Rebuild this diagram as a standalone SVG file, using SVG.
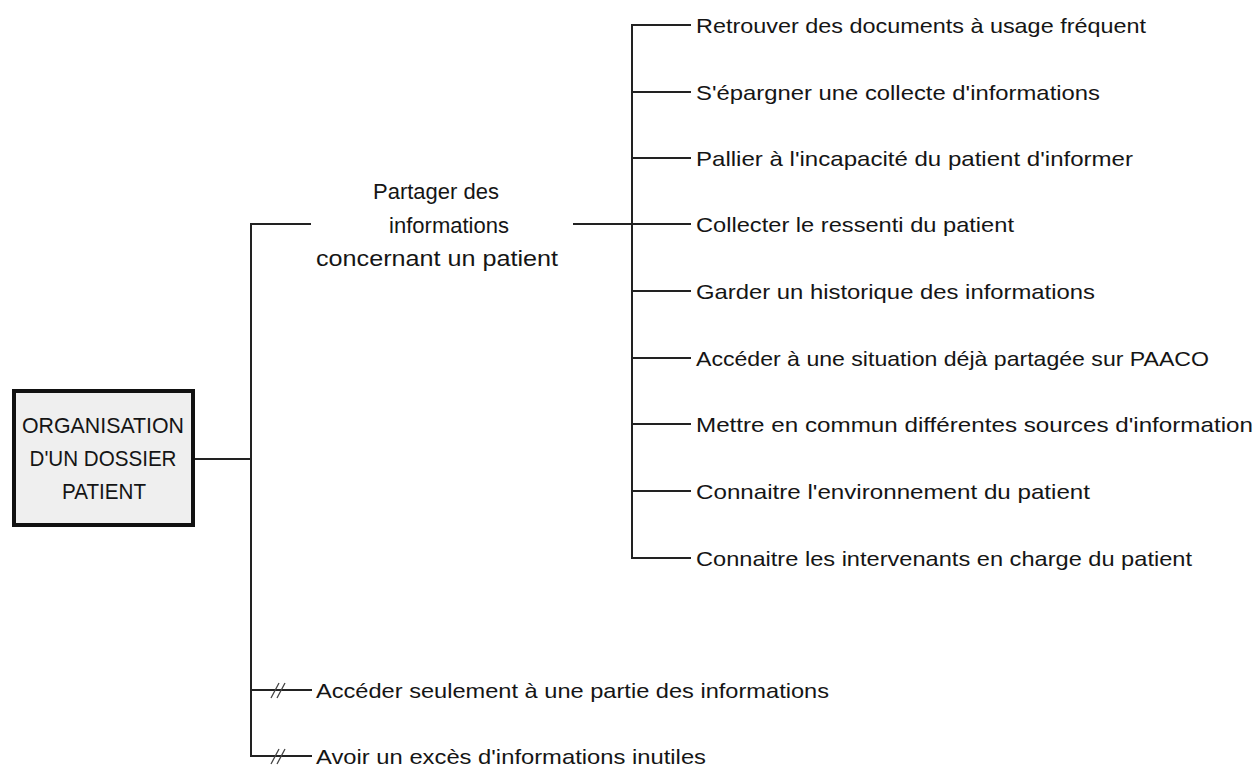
<svg xmlns="http://www.w3.org/2000/svg" width="1257" height="767" viewBox="0 0 1257 767">
<style>
text{font-family:"Liberation Sans",Arial,sans-serif;font-size:21px;fill:#151515}
.r text,.p text{font-size:22px}
.c{stroke:#222;stroke-width:2;fill:none}
.s{stroke:#444;stroke-width:1.3;fill:none}
.box{fill:#efefef;stroke:#111;stroke-width:4}
</style>
<rect width="1257" height="767" fill="#fff"/>
<g id="connectors">
<line class="c" x1="195" y1="459" x2="251" y2="459"/>
<line class="c" x1="251" y1="223" x2="251" y2="757"/>
<line class="c" x1="251" y1="224" x2="311" y2="224"/>
<line class="c" x1="251" y1="690" x2="312" y2="690"/>
<line class="c" x1="251" y1="756" x2="312" y2="756"/>
<line class="c" x1="573" y1="224" x2="632" y2="224"/>
<line class="c" x1="632" y1="24" x2="632" y2="559"/>
<line class="c" x1="632" y1="25" x2="691" y2="25"/>
<line class="c" x1="632" y1="92" x2="691" y2="92"/>
<line class="c" x1="632" y1="158" x2="691" y2="158"/>
<line class="c" x1="632" y1="224" x2="691" y2="224"/>
<line class="c" x1="632" y1="291" x2="691" y2="291"/>
<line class="c" x1="632" y1="358" x2="691" y2="358"/>
<line class="c" x1="632" y1="424" x2="691" y2="424"/>
<line class="c" x1="632" y1="491" x2="691" y2="491"/>
<line class="c" x1="632" y1="558" x2="691" y2="558"/>
<path class="s" d="M271 698 L279 683 M277 698 L285 683"/>
<path class="s" d="M271 764 L279 749 M277 764 L285 749"/>
</g>
<g id="root" class="r">
<rect class="box" x="14" y="391" width="179" height="134"/>
<text x="103" y="433" text-anchor="middle" textLength="162" lengthAdjust="spacingAndGlyphs">ORGANISATION</text>
<text x="103" y="466" text-anchor="middle" textLength="147" lengthAdjust="spacingAndGlyphs">D'UN DOSSIER</text>
<text x="104" y="499" text-anchor="middle" textLength="84" lengthAdjust="spacingAndGlyphs">PATIENT</text>
</g>
<g id="partager" class="p">
<text x="436" y="199" text-anchor="middle">Partager des</text>
<text x="449" y="233" text-anchor="middle">informations</text>
<text x="437" y="266" text-anchor="middle" textLength="242" lengthAdjust="spacingAndGlyphs">concernant un patient</text>
</g>
<g id="n1"><text x="696" y="33" textLength="450" lengthAdjust="spacingAndGlyphs">Retrouver des documents à usage fréquent</text></g>
<g id="n2"><text x="696" y="100" textLength="404" lengthAdjust="spacingAndGlyphs">S'épargner une collecte d'informations</text></g>
<g id="n3"><text x="696" y="166" textLength="437" lengthAdjust="spacingAndGlyphs">Pallier à l'incapacité du patient d'informer</text></g>
<g id="n4"><text x="696" y="232" textLength="318" lengthAdjust="spacingAndGlyphs">Collecter le ressenti du patient</text></g>
<g id="n5"><text x="696" y="299" textLength="399" lengthAdjust="spacingAndGlyphs">Garder un historique des informations</text></g>
<g id="n6"><text x="696" y="366" textLength="513" lengthAdjust="spacingAndGlyphs">Accéder à une situation déjà partagée sur PAACO</text></g>
<g id="n7"><text x="696" y="432" textLength="557" lengthAdjust="spacingAndGlyphs">Mettre en commun différentes sources d'information</text></g>
<g id="n8"><text x="696" y="499" textLength="394" lengthAdjust="spacingAndGlyphs">Connaitre l'environnement du patient</text></g>
<g id="n9"><text x="696" y="566" textLength="496" lengthAdjust="spacingAndGlyphs">Connaitre les intervenants en charge du patient</text></g>
<g id="n10"><text x="316" y="698" textLength="513" lengthAdjust="spacingAndGlyphs">Accéder seulement à une partie des informations</text></g>
<g id="n11"><text x="316" y="764" textLength="390" lengthAdjust="spacingAndGlyphs">Avoir un excès d'informations inutiles</text></g>
</svg>
